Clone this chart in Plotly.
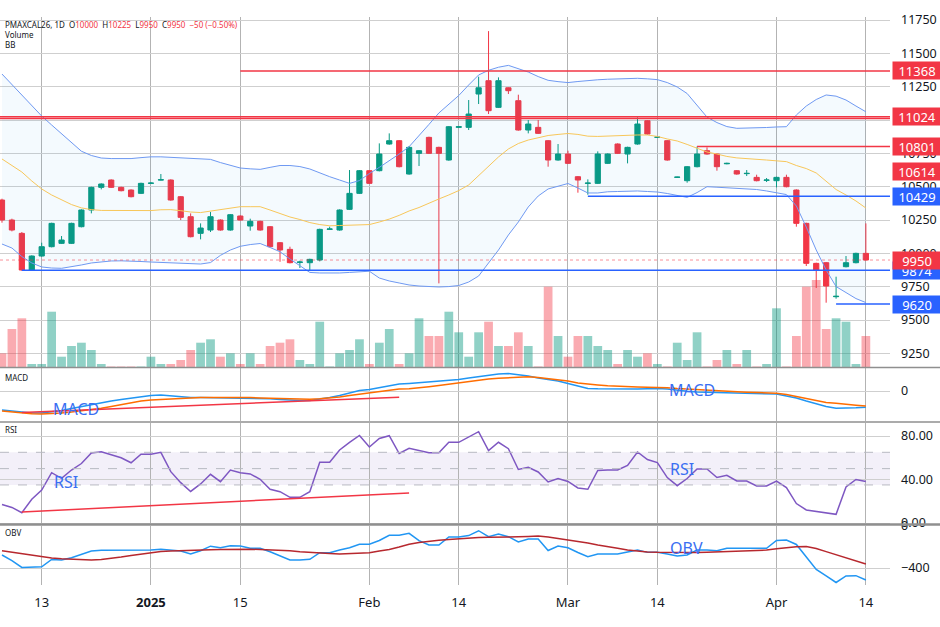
import pandas as pd
import plotly.graph_objects as go

# daily bars, PMAXCAL26 (christmas / new year closed)
HOLIDAYS = ["2024-12-25", "2024-12-26", "2025-01-01"]
dates = [d.strftime("%Y-%m-%d") for d in pd.bdate_range("2024-12-09", "2025-04-14")]
dates = [d for d in dates if d not in HOLIDAYS]

open_ = [10400, 10250, 10150, 9875, 9980, 10050, 10075, 10075, 10200, 10325,
         10495, 10550, 10495, 10475, 10450, 10525, 10550, 10550, 10425, 10275,
         10150, 10175, 10250, 10175, 10280, 10205, 10240, 10200, 10080, 10030,
         9932, 9930, 9950, 10180, 10175, 10330, 10450, 10620, 10620, 10820,
         10845, 10595, 10750, 10870, 10795, 10700, 10945, 10945, 11195, 11295,
         11095, 11242, 11145, 10925, 10945, 10845, 10700, 10745, 10575, 10525,
         10525, 10675, 10820, 10745, 10820, 10995, 10870, 10845, 10570, 10545,
         10650, 10770, 10745, 10672, 10620, 10598, 10570, 10548, 10545, 10570,
         10475, 10225, 9925, 9930, 9675, 9900, 9930, 10000]
high = [10410, 10260, 10160, 9985, 10080, 10230, 10130, 10230, 10330, 10500,
        10525, 10555, 10500, 10480, 10530, 10535, 10595, 10555, 10430, 10300,
        10225, 10310, 10255, 10295, 10285, 10260, 10245, 10205, 10085, 10050,
        9945, 9960, 10185, 10200, 10330, 10625, 10625, 10625, 10825, 10900,
        10850, 10805, 10775, 10875, 10800, 10955, 10955, 11150, 11325, 11667,
        11320, 11245, 11190, 11000, 11000, 10850, 10820, 10770, 10580, 10555,
        10765, 10750, 10825, 10800, 11020, 11000, 10878, 10850, 10575, 10655,
        10801, 10795, 10750, 10680, 10625, 10625, 10590, 10565, 10575, 10590,
        10480, 10230, 9930, 9935, 9825, 9980, 10005, 10225]
low = [10230, 10165, 9870, 9870, 9975, 10045, 10070, 10070, 10195, 10300,
       10480, 10490, 10465, 10420, 10445, 10520, 10548, 10395, 10250, 10120,
       10105, 10160, 10170, 10170, 10245, 10170, 10170, 10045, 9937, 9925,
       9890, 9875, 9940, 10175, 10170, 10325, 10445, 10520, 10615, 10815,
       10645, 10590, 10655, 10745, 9775, 10695, 10940, 10925, 11120, 11045,
       11090, 11195, 10920, 10900, 10895, 10650, 10695, 10670, 10455, 10440,
       10520, 10670, 10745, 10675, 10815, 10890, 10865, 10695, 10568, 10530,
       10645, 10740, 10620, 10668, 10590, 10580, 10540, 10535, 10495, 10495,
       10200, 9905, 9740, 9630, 9660, 9895, 9925, 9950]
close = [10250, 10175, 9875, 9980, 10050, 10225, 10100, 10225, 10325, 10495,
         10520, 10495, 10470, 10425, 10525, 10527, 10552, 10400, 10270, 10125,
         10190, 10275, 10175, 10290, 10250, 10240, 10175, 10050, 10025, 9930,
         9935, 9955, 10180, 10183, 10325, 10450, 10620, 10525, 10745, 10845,
         10650, 10795, 10770, 10750, 10750, 10950, 10950, 11045, 11242, 11070,
         11295, 11220, 10925, 10970, 10900, 10700, 10745, 10675, 10550, 10527,
         10745, 10745, 10750, 10795, 10970, 10895, 10872, 10700, 10572, 10650,
         10745, 10745, 10650, 10675, 10595, 10600, 10545, 10550, 10570, 10500,
         10225, 9925, 9875, 9755, 9678, 9930, 10000, 9950]
volume = [137, 380, 487, 30, 30, 553, 103, 210, 243, 170,
          30, 5, 5, 5, 5, 103, 30, 30, 70, 170,
          243, 277, 103, 137, 30, 137, 30, 210, 243, 277,
          70, 30, 453, 5, 137, 170, 277, 30, 243, 380,
          30, 137, 487, 310, 310, 553, 347, 103, 347, 453,
          210, 210, 347, 210, 5, 803, 310, 103, 310, 310,
          210, 170, 30, 170, 103, 137, 30, 5, 243, 70,
          347, 5, 70, 170, 30, 170, 5, 30, 587, 5,
          310, 803, 870, 380, 487, 453, 30, 310]

bb_upper = [11345, 11268, 11189, 11110, 11030, 10963, 10895, 10828, 10766, 10734,
            10715, 10711, 10709, 10711, 10718, 10724, 10724, 10720, 10717, 10711,
            10709, 10705, 10681, 10658, 10640, 10634, 10630, 10645, 10659, 10659,
            10651, 10633, 10603, 10575, 10550, 10525, 10546, 10599, 10645, 10693,
            10745, 10800, 10880, 10967, 11053, 11120, 11184, 11263, 11338, 11373,
            11396, 11410, 11387, 11360, 11326, 11298, 11288, 11281, 11289, 11298,
            11302, 11306, 11310, 11312, 11313, 11309, 11303, 11281, 11248, 11199,
            11113, 11022, 10981, 10951, 10938, 10939, 10940, 10944, 10948, 10950,
            11038, 11105, 11154, 11188, 11179, 11150, 11105, 11062]
bb_basis = [10708, 10659, 10610, 10543, 10483, 10438, 10400, 10366, 10341, 10328,
            10322, 10321, 10320, 10320, 10320, 10321, 10327, 10328, 10320, 10310,
            10306, 10317, 10329, 10340, 10350, 10350, 10350, 10325, 10299, 10273,
            10254, 10231, 10216, 10207, 10209, 10210, 10211, 10216, 10235, 10257,
            10285, 10318, 10344, 10378, 10408, 10438, 10471, 10513, 10585, 10655,
            10723, 10783, 10824, 10850, 10869, 10884, 10892, 10899, 10892, 10879,
            10877, 10880, 10884, 10888, 10888, 10888, 10877, 10858, 10843, 10817,
            10787, 10760, 10745, 10727, 10716, 10709, 10704, 10700, 10694, 10688,
            10659, 10636, 10603, 10543, 10479, 10438, 10393, 10340]
bb_lower = [10070, 10040, 9976, 9928, 9898, 9890, 9888, 9898, 9913, 9928,
            9938, 9943, 9944, 9943, 9939, 9935, 9932, 9928, 9925, 9922,
            9920, 9931, 9985, 10025, 10053, 10066, 10074, 10044, 10012, 9958,
            9905, 9857, 9853, 9851, 9853, 9857, 9860, 9866, 9815, 9793,
            9778, 9763, 9755, 9751, 9748, 9751, 9759, 9785, 9830, 9928,
            10025, 10138, 10235, 10348, 10430, 10483, 10505, 10524, 10490, 10453,
            10453, 10462, 10464, 10466, 10468, 10464, 10460, 10449, 10434, 10420,
            10456, 10500, 10496, 10492, 10489, 10488, 10479, 10468, 10453, 10441,
            10355, 10197, 10025, 9875, 9751, 9706, 9661, 9631]

macd = [-95, -100, -107, -110, -110, -105, -97, -87, -77, -67,
        -57, -50, -42, -35, -27, -22, -20, -24, -30, -32,
        -33, -34, -34, -35, -35, -36, -36, -39, -42, -45,
        -47, -47, -40, -32, -22, -10, 2, 7, 17, 28,
        35, 38, 42, 45, 50, 55, 58, 65, 72, 80,
        85, 87, 82, 75, 65, 57, 50, 37, 25, 13,
        11, 10, 9, 8, 10, 11, 13, 10, 3, -1,
        -5, -6, -7, -9, -10, -11, -12, -14, -15, -25,
        -35, -50, -65, -77, -86, -86, -84, -81]
macd_signal = [-100, -105, -110, -114, -115, -113, -110, -105, -99, -92,
               -86, -77, -67, -57, -50, -45, -42, -39, -36, -35,
               -33, -32, -32, -31, -32, -33, -35, -36, -38, -40,
               -41, -41, -39, -35, -30, -22, -16, -11, -5, 2,
               10, 11, 15, 21, 27, 34, 40, 46, 53, 60,
               64, 67, 70, 71, 68, 62, 57, 50, 40, 34,
               30, 26, 23, 21, 20, 19, 18, 16, 12, 9,
               6, 3, 1, -1, -3, -6, -8, -10, -11, -17,
               -27, -36, -46, -57, -61, -67, -71, -75]
rsi = [17.0, 14.3, 9.5, 21.8, 30.3, 46.3, 41.1, 48.7, 54.7, 64.4,
       65.6, 62.5, 60.0, 55.4, 63.2, 63.2, 65.0, 47.2, 37.1, 29.0,
       35.9, 44.8, 38.0, 48.7, 46.3, 45.1, 40.2, 31.0, 28.8, 23.6,
       23.6, 28.8, 55.8, 55.8, 67.1, 74.2, 80.5, 69.9, 77.7, 80.3,
       63.9, 68.7, 66.5, 64.6, 64.6, 74.2, 74.2, 78.8, 84.0, 66.5,
       74.2, 68.3, 49.2, 51.2, 46.9, 37.7, 40.9, 38.2, 32.2, 31.0,
       48.3, 48.7, 48.7, 52.9, 65.3, 58.4, 55.6, 41.8, 34.3, 40.9,
       49.7, 49.7, 41.8, 43.9, 38.6, 38.6, 34.0, 34.0, 38.6, 32.6,
       17.9, 12.0, 10.6, 9.2, 8.0, 33.1, 40.0, 38.2]
obv = [-276, -329, -395, -390, -388, -319, -324, -302, -267, -238,
       -231, -231, -231, -231, -231, -229, -222, -229, -238, -267,
       -235, -192, -207, -188, -191, -212, -212, -245, -286, -324,
       -324, -317, -254, -254, -229, -207, -174, -174, -138, -89,
       -89, -70, -140, -181, -181, -105, -105, -91, -45, -102,
       -76, -102, -152, -124, -124, -233, -191, -207, -252, -292,
       -267, -267, -267, -248, -229, -251, -251, -267, -286, -276,
       -229, -229, -235, -212, -212, -212, -212, -212, -138, -133,
       -176, -295, -414, -476, -538, -476, -473, -514]
obv_ma = [-236, -251, -263, -282, -295, -305, -313, -319, -322, -324,
          -318, -310, -295, -281, -267, -254, -244, -239, -234, -231,
          -229, -226, -224, -221, -219, -221, -224, -226, -229, -236,
          -246, -254, -259, -263, -267, -262, -257, -254, -238, -223,
          -200, -173, -157, -145, -136, -129, -121, -114, -109, -108,
          -108, -105, -102, -99, -95, -105, -118, -130, -146, -162,
          -181, -200, -212, -229, -241, -247, -250, -252, -254, -253,
          -252, -250, -247, -245, -241, -237, -233, -229, -216, -204,
          -197, -195, -214, -244, -274, -305, -333, -362]

TICK_DATES = ["2024-12-13", "2025-01-02", "2025-01-15", "2025-02-03", "2025-02-14",
              "2025-03-03", "2025-03-14", "2025-04-01", "2025-04-14"]
TICK_TEXT = ["13", "<b>2025</b>", "15", "Feb", "14", "Mar", "14", "Apr", "14"]
PRICE_TICKS = [9250, 9500, 9750, 10000, 10250, 10500, 10750, 11000, 11250, 11500, 11750]

# drawn horizontal levels (None = from the left edge)
LEVEL_PRICES = [11368, 11024, 11012, 10801, 10429, 9874, 9620]
LEVEL_START = ["2025-01-15", None, None, "2025-03-20", "2025-03-05", "2024-12-11", "2025-04-09"]
LEVEL_RED = [True, True, True, True, False, False, False]

TAG_PRICES = [11368, 11024, 10801, 10614, 10429, 9874, 9950, 9620]
TAG_RED = [True, True, True, True, False, False, True, False]
LAST_PRICE = 9950

MACD_TREND_DATES = ["2024-12-11", "2025-02-06"]
MACD_TREND_VALUES = [-107, -31]
RSI_TREND_DATES = ["2024-12-11", "2025-02-07"]
RSI_TREND_VALUES = [10.1, 27.6]

UP = "#089981"
DOWN = "#F23645"
BLUE = "#2962FF"
TXT = "#131722"
GRID_H = "#cfcfcf"
GRID_V = "#b3b3b3"
FONT = "Noto Sans"

# page pixels -> paper fractions (plot area runs from y=17 to y=585)
TOP, BOTTOM = 17, 585


def py(px):
    return (BOTTOM - px) / (BOTTOM - TOP)


X_RANGE = [-0.2, 89.43]
PANE_MAIN = [py(367), 1.0]
PANE_MACD = [py(421), py(368)]
PANE_RSI = [py(524), py(423)]
PANE_OBV = [0.0, py(526)]

pos = {d: i for i, d in enumerate(dates)}
vol_colors = ["rgba(8,153,129,0.45)" if c >= o else "rgba(242,54,69,0.42)"
              for o, c in zip(open_, close)]

fig = go.Figure()

fig.add_trace(go.Bar(x=dates, y=volume, marker=dict(color=vol_colors, line=dict(width=0)),
                     xaxis="x", yaxis="y", hoverinfo="skip"))
fig.add_trace(go.Scatter(x=dates, y=bb_upper, mode="lines", line=dict(color="#6f99f2", width=1),
                         xaxis="x", yaxis="y5"))
fig.add_trace(go.Scatter(x=dates, y=bb_lower, mode="lines", line=dict(color="#6f99f2", width=1),
                         fill="tonexty", fillcolor="rgba(33,150,243,0.05)", xaxis="x", yaxis="y5"))
fig.add_trace(go.Scatter(x=dates, y=bb_basis, mode="lines", line=dict(color="#f8c75a", width=1),
                         xaxis="x", yaxis="y5"))
fig.add_trace(go.Candlestick(x=dates, open=open_, high=high, low=low, close=close,
                             increasing=dict(line=dict(color=UP, width=1), fillcolor=UP),
                             decreasing=dict(line=dict(color=DOWN, width=1), fillcolor=DOWN),
                             whiskerwidth=0, xaxis="x", yaxis="y5"))

fig.add_trace(go.Scatter(x=dates, y=macd, mode="lines", line=dict(color="#2196F3", width=1.5),
                         xaxis="x2", yaxis="y2"))
fig.add_trace(go.Scatter(x=dates, y=macd_signal, mode="lines", line=dict(color="#FF6D00", width=1.5),
                         xaxis="x2", yaxis="y2"))
fig.add_trace(go.Scatter(x=dates, y=rsi, mode="lines", line=dict(color="#7E57C2", width=1.5),
                         xaxis="x3", yaxis="y3"))
fig.add_trace(go.Scatter(x=dates, y=obv, mode="lines", line=dict(color="#2196F3", width=1.5),
                         xaxis="x4", yaxis="y4"))
fig.add_trace(go.Scatter(x=dates, y=obv_ma, mode="lines", line=dict(color="#B7282E", width=1.5),
                         xaxis="x4", yaxis="y4"))

shapes = []
for price, start, red in zip(LEVEL_PRICES, LEVEL_START, LEVEL_RED):
    x0 = pos[start] if start else X_RANGE[0]
    shapes.append(dict(type="line", xref="x", yref="y5", x0=x0, x1=X_RANGE[1], y0=price, y1=price,
                       line=dict(color=DOWN if red else BLUE, width=1.5)))
shapes.append(dict(type="line", xref="paper", yref="y5", x0=0, x1=1, y0=LAST_PRICE, y1=LAST_PRICE,
                   line=dict(color="rgba(242,54,69,0.55)", width=1, dash="dot")))
shapes.append(dict(type="line", xref="x2", yref="y2",
                   x0=pos[MACD_TREND_DATES[0]], x1=pos[MACD_TREND_DATES[1]],
                   y0=MACD_TREND_VALUES[0], y1=MACD_TREND_VALUES[1],
                   line=dict(color=DOWN, width=1.5)))
shapes.append(dict(type="line", xref="x3", yref="y3",
                   x0=pos[RSI_TREND_DATES[0]], x1=pos[RSI_TREND_DATES[1]],
                   y0=RSI_TREND_VALUES[0], y1=RSI_TREND_VALUES[1],
                   line=dict(color=DOWN, width=1.5)))
# rsi band 35-65 with dashed bounds
shapes.append(dict(type="rect", xref="paper", yref="y3", x0=0, x1=1, y0=35, y1=65,
                   fillcolor="rgba(126,87,194,0.09)", line=dict(width=0), layer="below"))
for lvl in (35, 50, 65):
    shapes.append(dict(type="line", xref="paper", yref="y3", x0=0, x1=1, y0=lvl, y1=lvl,
                       line=dict(color="#b8bac2", width=1, dash="dash")))
# pane separators, across the price scale too
for px, w in ((367.5, 1.5), (422, 1.5), (524.5, 2.5)):
    shapes.append(dict(type="line", xref="paper", yref="paper", x0=0, x1=940 / 890,
                       y0=py(px), y1=py(px), line=dict(color="#8f8f8f", width=w)))

annotations = []
for price, red in zip(TAG_PRICES, TAG_RED):
    annotations.append(dict(xref="paper", yref="y5", x=892 / 890, y=price, xanchor="left",
                            yanchor="middle", text=str(price), showarrow=False,
                            bgcolor=DOWN if red else BLUE, width=44, height=13, borderpad=2,
                            font=dict(family=FONT, size=13, color="white")))

red_txt = '<span style="color:#F23645">%s</span>'
header = ("PMAXCAL26, 1D  O" + red_txt % "10000" + "  H" + red_txt % "10225" + "  L" + red_txt % "9950"
          + "  C" + red_txt % "9950" + "  " + red_txt % "\u221250 (\u22120.50%)")
for txt, ypx in ((header, 25), ("Volume", 34.5), ("BB", 44), ("MACD", 377), ("RSI", 429.5), ("OBV", 532)):
    annotations.append(dict(xref="paper", yref="paper", x=0.0035, y=py(ypx), xanchor="left",
                            yanchor="middle", text=txt, showarrow=False,
                            font=dict(family=FONT, size=8, color=TXT)))

# hand-drawn labels on the indicator panes
for txt, xr, yr, xv, yv in (("MACD", "x2", "y2", 7.45, -88), ("MACD", "x2", "y2", 69.5, 4),
                            ("RSI", "x3", "y3", 6.4, 38), ("RSI", "x3", "y3", 68.5, 49.5),
                            ("OBV", "x4", "y4", 68.9, -212)):
    annotations.append(dict(xref=xr, yref=yr, x=xv, y=yv, text=txt, showarrow=False,
                            xanchor="center", yanchor="middle",
                            font=dict(family=FONT, size=16, color="#3a6ff2")))

xcommon = dict(type="category", range=X_RANGE, tickvals=TICK_DATES, ticktext=TICK_TEXT,
               showgrid=True, gridcolor=GRID_V, gridwidth=1, zeroline=False, showline=False,
               ticks="", fixedrange=True)
ycommon = dict(side="right", showgrid=True, gridcolor=GRID_H, gridwidth=1, zeroline=False,
               showline=False, ticks="", ticklabelstandoff=10,
               tickfont=dict(family=FONT, size=12.5, color=TXT))

fig.update_layout(
    width=940, height=627,
    margin=dict(l=0, r=50, t=TOP, b=627 - BOTTOM),
    paper_bgcolor="white", plot_bgcolor="white",
    showlegend=False, boxgap=0.25, bargap=0.12,
    font=dict(family=FONT, color=TXT),
    xaxis=dict(xcommon, anchor="y", showticklabels=False, rangeslider=dict(visible=False)),
    xaxis2=dict(xcommon, anchor="y2", matches="x", showticklabels=False),
    xaxis3=dict(xcommon, anchor="y3", matches="x", showticklabels=False),
    xaxis4=dict(xcommon, anchor="y4", matches="x", showticklabels=True, ticklabelstandoff=8,
                tickfont=dict(family=FONT, size=13, color=TXT)),
    yaxis=dict(domain=PANE_MAIN, range=[0, 3500], visible=False, fixedrange=True),
    yaxis5=dict(ycommon, overlaying="y", anchor="x", range=[9147.75, 11772.75],
                tickvals=PRICE_TICKS, tickformat="d"),
    yaxis2=dict(ycommon, domain=PANE_MACD, anchor="x2", range=[-150, 115], tickvals=[0]),
    yaxis3=dict(ycommon, domain=PANE_RSI, anchor="x3", range=[-0.92, 91.95], tickvals=[0, 40, 80],
                tickformat=".2f"),
    yaxis4=dict(ycommon, domain=PANE_OBV, anchor="x4", range=[-561.9, 0], tickvals=[-400, 0],
                tickformat="d"),
    shapes=shapes,
    annotations=annotations,
)

# the page body has a default 8px margin; drop it so the figure sits at the window origin
fig.write_html("out.html", config={"displayModeBar": False},
               post_script="document.body.style.margin='0';")
